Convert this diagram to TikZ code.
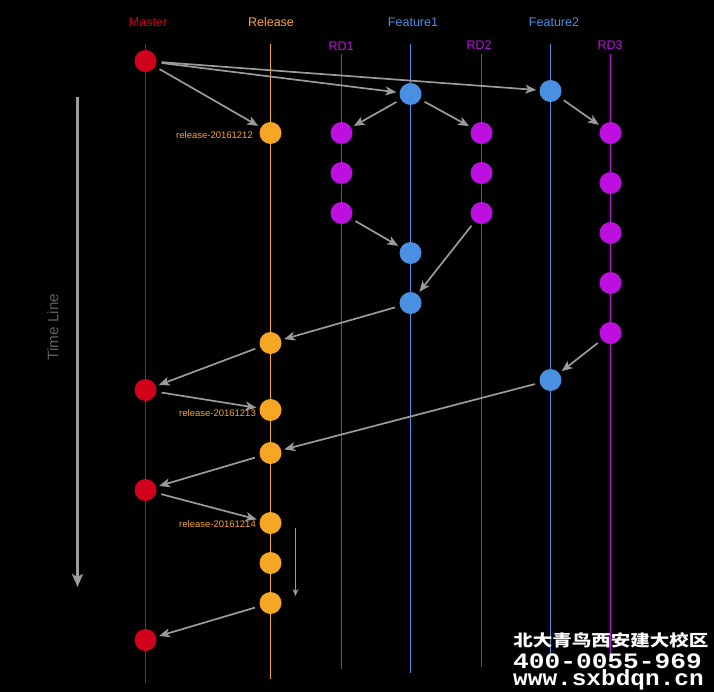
\documentclass[tikz,border=0pt]{standalone}
\usepackage{fontspec}
\setmainfont{Liberation Sans}
\newfontfamily\cjk{Noto Sans CJK SC}
\newfontfamily\monof{Liberation Mono}
\usetikzlibrary{arrows.meta}
\definecolor{cmaster}{HTML}{D0021B}
\definecolor{crel}{HTML}{F5A623}
\definecolor{cfeat}{HTML}{4A90E2}
\definecolor{crd}{HTML}{BD10E0}
\definecolor{carrow}{HTML}{9B9B9B}
\definecolor{ctime}{HTML}{5E5E5E}
\tikzset{
  dot/.style={circle,inner sep=0pt,minimum size=22bp,fill=#1},
  branch/.style={draw=#1,line width=1.2bp},
  title/.style={text=#1,font=\fontsize{12.5bp}{14bp}\selectfont,inner sep=0pt},
  tag/.style={text=crel,font=\fontsize{9.5bp}{11bp}\selectfont,inner sep=0pt,anchor=east},
  flow/.style={draw=carrow,line width=1.7bp,-{Stealth[length=11bp,width=9bp,inset=3bp]},shorten <=5bp,shorten >=3bp},
  wmtext/.style={text=white,inner sep=0pt,anchor=west},
}
\begin{document}
\begin{tikzpicture}[x=1bp,y=-1bp]
\fill[black] (0,0) rectangle (714,692);
\useasboundingbox (0,0) rectangle (714,692);
% branch lines
\coordinate (mt) at (145.5,44); \coordinate (mbt) at (145.5,683);
\coordinate (rt) at (270.5,44); \coordinate (rbt) at (270.5,679);
\coordinate (d1t) at (341.5,54); \coordinate (d1bt) at (341.5,669);
\coordinate (f1t) at (410.5,44); \coordinate (f1bt) at (410.5,673);
\coordinate (d2t) at (481.5,54); \coordinate (d2bt) at (481.5,667);
\coordinate (f2t) at (550.5,44); \coordinate (f2bt) at (550.5,658);
\coordinate (d3t) at (610.5,54); \coordinate (d3bt) at (610.5,662);
\draw[branch=cmaster] (mt) -- (mbt);
\draw[branch=crel] (rt) -- (rbt);
\draw[branch=crd] (d1t) -- (d1bt);
\draw[branch=cfeat] (f1t) -- (f1bt);
\draw[branch=crd] (d2t) -- (d2bt);
\draw[branch=cfeat] (f2t) -- (f2bt);
\draw[branch=crd] (d3t) -- (d3bt);
% titles
\node[title=cmaster] (tm) at (148,22) {Master};
\node[title=crel] (tr) at (271,22) {Release};
\node[title=cfeat] (tf1) at (413,22) {Feature1};
\node[title=cfeat] (tf2) at (554,22) {Feature2};
\node[title=crd] (td1) at (341,46) {RD1};
\node[title=crd] (td2) at (479,45) {RD2};
\node[title=crd] (td3) at (610,45) {RD3};
% commits
\node[dot=cmaster] (m1) at (145.5,61) {};
\node[dot=cmaster] (m2) at (145.5,390) {};
\node[dot=cmaster] (m3) at (145.5,490) {};
\node[dot=cmaster] (m4) at (145.5,640) {};
\node[dot=crel] (r1) at (270.5,133) {};
\node[dot=crel] (r2) at (270.5,343) {};
\node[dot=crel] (r3) at (270.5,410) {};
\node[dot=crel] (r4) at (270.5,453) {};
\node[dot=crel] (r5) at (270.5,523) {};
\node[dot=crel] (r6) at (270.5,563) {};
\node[dot=crel] (r7) at (270.5,603) {};
\node[dot=crd] (d1a) at (341.5,133) {};
\node[dot=crd] (d1b) at (341.5,173) {};
\node[dot=crd] (d1c) at (341.5,213) {};
\node[dot=cfeat] (f1a) at (410.5,94) {};
\node[dot=cfeat] (f1b) at (410.5,253) {};
\node[dot=cfeat] (f1c) at (410.5,303) {};
\node[dot=crd] (d2a) at (481.5,133) {};
\node[dot=crd] (d2b) at (481.5,173) {};
\node[dot=crd] (d2c) at (481.5,213) {};
\node[dot=cfeat] (f2a) at (550.5,91) {};
\node[dot=cfeat] (f2b) at (550.5,380) {};
\node[dot=crd] (d3a) at (610.5,133) {};
\node[dot=crd] (d3b) at (610.5,183) {};
\node[dot=crd] (d3c) at (610.5,233) {};
\node[dot=crd] (d3d) at (610.5,283) {};
\node[dot=crd] (d3e) at (610.5,333) {};
% tags
\node[tag] (l1) at (253,135) {release-20161212};
\node[tag] (l2) at (256,413) {release-20161213};
\node[tag] (l3) at (256,524) {release-20161214};
% merges
\draw[flow] (m1) -- (f1a);
\draw[flow] (m1) -- (f2a);
\draw[flow] (m1) -- (r1);
\draw[flow] (f1a) -- (d1a);
\draw[flow] (f1a) -- (d2a);
\draw[flow] (f2a) -- (d3a);
\draw[flow] (d1c) -- (f1b);
\draw[flow] (d2c) -- (f1c);
\draw[flow] (f1c) -- (r2);
\draw[flow] (r2) -- (m2);
\draw[flow] (m2) -- (r3);
\draw[flow] (d3e) -- (f2b);
\draw[flow] (f2b) -- (r4);
\draw[flow] (r4) -- (m3);
\draw[flow] (m3) -- (r5);
\draw[flow] (r7) -- (m4);
% small arrow
\coordinate (sa) at (295.5,528); \coordinate (sb) at (295.5,596);
\draw[draw=carrow,line width=1bp,-{Stealth[length=7bp,width=6bp]}] (sa) -- (sb);
% time line
\coordinate (t0) at (77.5,97); \coordinate (t1) at (77.5,587);
\draw[draw=carrow,line width=2.5bp,-{Stealth[length=13bp,width=11bp,inset=3bp]}] (t0) -- (t1);
\node[text=ctime,font=\fontsize{15.3bp}{17bp}\selectfont,rotate=90,inner sep=0pt] (tl) at (53,327) {Time Line};
% watermark
\node[wmtext,font=\cjk\bfseries\fontsize{16bp}{18bp}\selectfont,xscale=1.22] (w1) at (513,640) {北大青鸟西安建大校区};
\node[wmtext,font=\monof\bfseries\fontsize{22bp}{24bp}\selectfont,xscale=1.19] (w2) at (513,661) {400-0055-969};
\node[wmtext,font=\monof\bfseries\fontsize{22bp}{24bp}\selectfont,xscale=1.11] (w3) at (513,680) {www.sxbdqn.cn};
\end{tikzpicture}
\end{document}
